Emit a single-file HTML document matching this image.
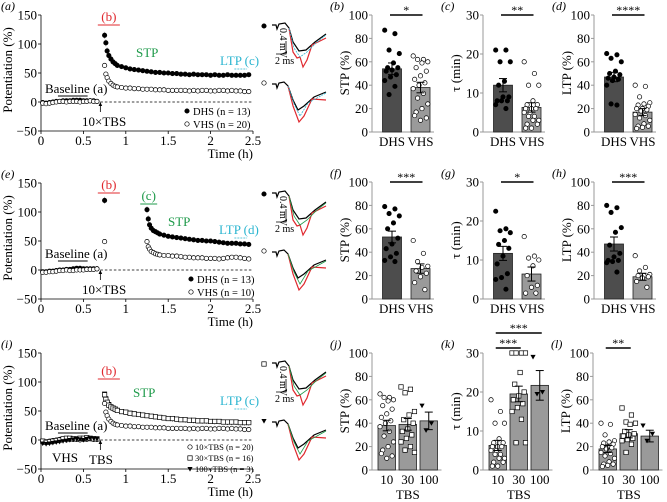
<!DOCTYPE html>
<html><head><meta charset="utf-8"><style>
body{margin:0;background:#fff}
svg{display:block;font-family:"Liberation Serif",serif}
</style></head><body>
<svg id="fig" width="667" height="502" viewBox="0 0 667 502" xmlns="http://www.w3.org/2000/svg"></svg>
<script>
// ---------- DATA ----------
const baseT=[0.02,0.06,0.10,0.14,0.18,0.22,0.26,0.30,0.34,0.38,0.42,0.46,0.50,0.54,0.58,0.62,0.66];
const postT=[0.75,0.765,0.78,0.80,0.825,0.85,0.875,0.9,0.95,1.0,1.05,1.1,1.15,1.2,1.25,1.3,1.35,1.4,1.45,1.5,1.55,1.6,1.65,1.7,1.75,1.8,1.85,1.9,1.95,2.0,2.05,2.1,2.15,2.2,2.25,2.3,2.35,2.4,2.45];
const postTe=[1.25,1.265,1.28,1.30,1.325,1.35,1.375,1.4,1.45,1.5,1.55,1.6,1.65,1.7,1.75,1.8,1.85,1.9,1.95,2.0,2.05,2.1,2.15,2.2,2.25,2.3,2.35,2.4,2.45];
const aDhsBase=[-1,-2,-1,0,1,1,2,2,2,3,3,3,2,2,2,2,1];
const aVhsBase=[-2,-3,-2,-1,0,1,1,0,1,1,1,0,1,1,2,1,1];
const aDhsPost=[115,102,88,80,74,69,66,63,61,59,57,56,55,54,53,52,51,51,50,50,49,49,48,48,47,48,47,47,47,46,47,46,46,47,46,46,46,46,47];
const aVhsPost=[63,48,42,36,32,29,27,26,25,24,24,23,23,22,22,22,21,21,21,20,20,20,20,20,19,20,19,20,20,19,19,20,20,19,20,19,19,18,18];
const eDhsBase=[-3,-3,-2,-2,-1,0,0,1,1,2,3,3,2,2,2,2,2];
const eVhsBase=[-4,-4,-3,-3,-2,-1,-1,0,-1,-1,0,0,0,1,1,1,2];
const eDhsTbs=[120];
const eVhsTbs=[49];
const eDhsPost=[104,88,78,72,68,66,64,62,60,58,57,56,55,54,53,52,51,51,50,50,49,48,47,46,46,46,45,45,44];
const eVhsPost=[49,40,36,32,30,28,27,26,25,25,24,24,23,22,22,21,21,21,20,20,20,19,20,21,22,22,21,20,19];
const i10Base=[-2,-3,-2,-1,0,1,1,0,1,1,1,0,1,1,2,1,1];
const i30Base=[-2,-4,-3,-2,-1,0,2,3,3,2,2,3,3,4,3,2,2];
const i100Base=[-6,-7,-6,-5,-4,-3,-2,-1,0,1,2,1,0,2,3,3,2];
const i10Post=[63,48,42,36,32,29,27,26,25,24,24,23,23,22,22,22,21,21,21,20,20,20,20,20,19,20,19,20,20,19,19,20,20,19,20,19,19,18,18];
const i30Post=[78,70,65,60,57,55,53,51,49,48,46,45,44,43,42,41,40,39,38,37,37,36,35,35,34,34,33,33,33,32,32,32,31,31,31,31,30,30,30];
const i100Post=[80,72,66,62,58,56,54,52,50,48,47,46,44,43,42,41,40,39,38,37,36,36,35,34,34,33,33,32,32,32,31,31,31,30,30,30,29,29,29];
const timeTicks=[0,0.5,1,1.5,2,2.5];
const timeTickLabels=["0","0.5","1","1.5","2","2.5"];
const potTicks=[150,100,50,0,-50];
const potTickLabels=["150","100","50","0","\u221250"];

const groups2=["DHS","VHS"];
const groups3=["10","30","100"];
const bMeans=[54,38], bSem=[5,4.5];
const bDhs=[87,84,70,67,59,55,55,53,52,49,47,44,39,32];
const bVhs=[65,62,62,60,59,55,52,48,45,42,40,37,33,29,24,20,17,12,10,14];
const cMeans=[12,6.3], cSem=[1.7,1.2];
const cDhs=[21,21,18,18,13,12,9,9,8,8,8,7,6];
const cVhs=[18,15,12,12,8,7,7,6,6,6,5,5,4,4,3,3,2,2,1,1];
const dMeans=[47,17], dSem=[4,3];
const dDhs=[67,66,63,60,52,50,49,47,46,45,44,40,23,24];
const dVhs=[40,39,30,25,24,23,22,20,20,19,18,15,14,12,10,7,5,5,4,3];
const fMeans=[53,26], fSem=[5,4];
const fDhs=[79,77,73,71,65,60,52,47,43,39,36,33,32];
const fVhs=[50,39,32,28,27,24,22,19,14,8];
const gMeans=[11.7,6.4], gSem=[1.8,1.8];
const gDhs=[22.5,18,17.5,17,15,14,13,11,9,6.5,5.5,5,2.5];
const gVhs=[16,11,10.5,10,8.5,6,3.5,3,1.5,1.5];
const hMeans=[47,19], hSem=[6,3];
const hDhs=[80,78,74,61,57,46,39,36,33,33,32,31,23];
const hVhs=[37,27,24,21,20,20,19,18,15,10];
const jMeans=[38,39,42], jSem=[4.5,5,7.5];
const j10=[65,62,62,60,59,55,52,48,45,42,40,37,33,29,24,20,17,12,10,14];
const j30=[71,69,66,50,47,43,40,35,33,30,27,24,20,17,15];
const j100=[55,40,34];
const kMeans=[6.3,19.5,21.7], kSem=[1.3,2,3.8];
const k10=[18,15,12,12,8,7,7,6,6,6,5,5,4,4,3,3,2,2,1,1];
const k30=[30,30,30,30,25,22,20,19,18,17,16,15,13,7,7];
const k100=[29,20,19.5];
const lMeans=[18,31,29], lSem=[3,3.5,5];
const l10=[40,39,30,25,24,23,22,20,20,19,18,15,14,12,10,7,5,5,4,3];
const l30=[53,47,41,40,39,33,31,30,29,27,26,25,22,15];
const l100=[38,31,25];
const pctTicks=[0,20,40,60,80,100];
const tauTicks=[0,10,20,30];

// ---------- DRAW ----------
const NS="http://www.w3.org/2000/svg";
const svg=document.getElementById('fig');
function mk(tag,attrs,parent){const e=document.createElementNS(NS,tag);for(const k in attrs)e.setAttribute(k,attrs[k]);(parent||svg).appendChild(e);return e;}
function txt(s,x,y,o,parent){o=o||{};const e=mk('text',{x:x,y:y,'font-size':o.fs||12,fill:o.fill||'#000','text-anchor':o.anchor||'start'},parent);if(o.italic)e.setAttribute('font-style','italic');if(o.rot)e.setAttribute('transform','rotate(-90 '+x+' '+y+')');e.textContent=s;return e;}

function marker(g,shape,x,y,filled){
  let e;
  if(shape==='sq'){e=mk('rect',{x:x-2.2,y:y-2.2,width:4.4,height:4.4,fill:filled?'#000':'#fff',stroke:'#000','stroke-width':0.7},g);}
  else if(shape==='tri'){e=mk('path',{d:`M${x-2.6},${y-2} L${x+2.6},${y-2} L${x},${y+2.6}Z`,fill:'#000'},g);}
  else {e=mk('circle',{cx:x,cy:y,r:2.2,fill:filled?'#000':'#fff',stroke:'#000','stroke-width':0.7},g);}
  
  
  return e;
}

function timePlot(oy,letter,series,texts){
  const g=mk('g',{});
  
  
  const X=t=>41+t*84.8, Y=v=>oy+102-v*0.58;
  const ax=mk('path',{d:`M${X(0)},${Y(150)} L${X(0)},${Y(-50)} L${X(2.5)},${Y(-50)}`,fill:'none',stroke:'#000','stroke-width':0.8},g);
  
  timeTicks.forEach((t,i)=>{mk('line',{x1:X(t),x2:X(t),y1:Y(-50),y2:Y(-50)+3,stroke:'#000','stroke-width':0.8},g);
    const l=txt(timeTickLabels[i],X(t),Y(-50)+14,{anchor:'middle',fs:13},g);});
  potTicks.forEach((v,i)=>{mk('line',{x1:X(0)-3,x2:X(0),y1:Y(v),y2:Y(v),stroke:'#000','stroke-width':0.8},g);
    const l=txt(potTickLabels[i],X(0)-4,Y(v)+4.5,{anchor:'end',fs:13},g);});
  mk('line',{x1:X(0.7),x2:X(2.5),y1:Y(0),y2:Y(0),stroke:'#000','stroke-width':0.7,'stroke-dasharray':'2.5,2'},g);
  const yt=txt('Potentiation (%)',12,oy+70,{rot:true,anchor:'middle',fs:13},g);
  const xt=txt('Time (h)',253,oy+158,{anchor:'end',fs:13},g);
  series.forEach(s=>{s.t.forEach((t,i)=>{if(s.v[i]>80){mk('line',{x1:X(t),x2:X(t),y1:Y(s.v[i]+6),y2:Y(s.v[i]-6),stroke:'#888','stroke-width':0.6},g);}marker(g,s.shape,X(t),Y(s.v[i]),s.filled);});});
  texts(g,X,Y);
  const pl=txt('('+letter+')',1,oy+10,{italic:true},g);
}

function stdAnn(g,X,Y,oy,bY,baseY,tbs){
  txt('(b)',X(0.8),oy+bY,{fill:'#e0282e',anchor:'middle',fs:13},g);
  mk('line',{x1:X(0.67),x2:X(0.93),y1:oy+bY+4,y2:oy+bY+4,stroke:'#e0282e','stroke-width':1},g);
  txt('Baseline (a)',45,oy+baseY,{fs:13},g);
  mk('line',{x1:X(0.2),x2:X(0.55),y1:oy+baseY+3,y2:oy+baseY+3,stroke:'#000','stroke-width':1},g);
  mk('line',{x1:X(0.7),x2:X(0.7),y1:oy+112,y2:oy+104,stroke:'#000','stroke-width':0.8},g);
  mk('path',{d:`M${X(0.7)-1.8},${oy+106} L${X(0.7)},${oy+102} L${X(0.7)+1.8},${oy+106}Z`},g);
  txt(tbs,tbs==='TBS'?89:82,oy+126,{fs:13},g);
}

timePlot(0,'a',[
  {t:baseT,v:aDhsBase,shape:'c',filled:true},{t:baseT,v:aVhsBase,shape:'c',filled:false},
  {t:postT,v:aDhsPost,shape:'c',filled:true},{t:postT,v:aVhsPost,shape:'c',filled:false}],
  (g,X,Y)=>{stdAnn(g,X,Y,0,21,93,'10\u00d7TBS');
    txt('STP',136,57,{fill:'#1e9a4a',fs:13},g);
    txt('LTP (c)',220,65,{fill:'#2bb5d0',fs:13},g);
    mk('line',{x1:X(2.28),x2:X(2.43),y1:69,y2:69,stroke:'#2bb5d0','stroke-width':0.8,'stroke-dasharray':'2,1'},g);
    marker(g,'c',187,111,true);txt('DHS (n = 13)',193,115,{fs:10.5},g);
    marker(g,'c',187,124,false);txt('VHS (n = 20)',193,128,{fs:10.5},g);});
timePlot(168,'e',[
  {t:baseT,v:eDhsBase,shape:'c',filled:true},{t:baseT,v:eVhsBase,shape:'c',filled:false},
  {t:[0.75],v:eDhsTbs,shape:'c',filled:true},{t:[0.75],v:eVhsTbs,shape:'c',filled:false},
  {t:postTe,v:eDhsPost,shape:'c',filled:true},{t:postTe,v:eVhsPost,shape:'c',filled:false}],
  (g,X,Y)=>{stdAnn(g,X,Y,168,21,90,'10\u00d7TBS');
    txt('(c)',X(1.27),168+32,{fill:'#1e9a4a',anchor:'middle',fs:13},g);
    mk('line',{x1:X(1.17),x2:X(1.37),y1:168+36,y2:168+36,stroke:'#1e9a4a','stroke-width':1},g);
    txt('STP',168,168+58,{fill:'#1e9a4a',fs:13},g);
    txt('LTP (d)',219,168+66,{fill:'#2bb5d0',fs:13},g);
    mk('line',{x1:X(2.28),x2:X(2.43),y1:168+70,y2:168+70,stroke:'#2bb5d0','stroke-width':0.8,'stroke-dasharray':'2,1'},g);
    marker(g,'c',191,168+111,true);txt('DHS (n = 13)',197,168+115,{fs:10.5},g);
    marker(g,'c',191,168+124,false);txt('VHS (n = 10)',197,168+128,{fs:10.5},g);});
timePlot(338,'i',[
  {t:baseT,v:i10Base,shape:'c',filled:false},{t:baseT,v:i30Base,shape:'sq',filled:false},{t:baseT,v:i100Base,shape:'tri',filled:true},
  {t:postT,v:i100Post,shape:'tri',filled:true},{t:postT,v:i30Post,shape:'sq',filled:false},{t:postT,v:i10Post,shape:'c',filled:false}],
  (g,X,Y)=>{stdAnn(g,X,Y,338,37,92,'TBS');
    txt('STP',133,338+59,{fill:'#1e9a4a',fs:13},g);
    txt('LTP (c)',220,338+67,{fill:'#2bb5d0',fs:13},g);
    mk('line',{x1:X(2.28),x2:X(2.43),y1:338+71,y2:338+71,stroke:'#2bb5d0','stroke-width':0.8,'stroke-dasharray':'2,1'},g);
    txt('VHS',52,338+124,{fs:13},g);
    marker(g,'c',190,338+109,false);txt('10\u00d7TBS (n = 20)',195,338+112,{fs:8.5},g);
    marker(g,'sq',190,338+120,false);txt('30\u00d7TBS (n = 16)',195,338+123,{fs:8.5},g);
    marker(g,'tri',190,338+131,true);txt('100\u00d7TBS (n = 3)',195,338+134,{fs:8.5},g);});

function barPlot(letter,ax,oy,max,ticks,ytitle,cats,means,sems,pts,shapes,fills,barFills,xtitle,sigs){
  const g=mk('g',{});
  
  
  const top=oy+15,bot=oy+132;
  const Y=v=>bot-v/max*(bot-top);
  const n=cats.length, bw=n===2?19:17.5, gap=n===2?9.5:3.5, start=ax+(n===2?10.5:6);
  const Xc=i=>start+i*(bw+gap)+bw/2;
  mk('line',{x1:ax,x2:ax,y1:top,y2:bot,stroke:'#999','stroke-width':1},g);
  mk('line',{x1:ax,x2:Xc(n-1)+bw/2+4,y1:bot,y2:bot,stroke:'#999','stroke-width':1},g);
  ticks.forEach(v=>{mk('line',{x1:ax-3,x2:ax,y1:Y(v),y2:Y(v),stroke:'#999','stroke-width':1},g);
    const l=txt(String(v),ax-4,Y(v)+4.5,{anchor:'end',fs:13},g);});
  const yt=txt(ytitle,ax-23,oy+73,{rot:true,anchor:'middle',fs:13},g);
  cats.forEach((c,i)=>{
    const b=mk('rect',{x:Xc(i)-bw/2,y:Y(means[i]),width:bw,height:bot-Y(means[i]),fill:barFills[i],stroke:'#222','stroke-width':0.8},g);
    
    
    pts[i].forEach((v,k)=>{const off=((k*7)%11-5)*bw/13;marker(g,shapes[i],Xc(i)+off,Y(v),fills[i]);});
    mk('line',{x1:Xc(i),x2:Xc(i),y1:Y(means[i]+sems[i]),y2:Y(means[i]-sems[i]),stroke:'#000','stroke-width':1},g);
    mk('line',{x1:Xc(i)-4,x2:Xc(i)+4,y1:Y(means[i]+sems[i]),y2:Y(means[i]+sems[i]),stroke:'#000','stroke-width':1},g);
    mk('line',{x1:Xc(i)-4,x2:Xc(i)+4,y1:Y(means[i]-sems[i]),y2:Y(means[i]-sems[i]),stroke:'#000','stroke-width':1},g);
    const l=txt(c,Xc(i),bot+14,{anchor:'middle',fs:13},g);
  });
  if(xtitle){const xt=txt(xtitle,(Xc(0)+Xc(n-1))/2,oy+161,{anchor:'middle',fs:13},g);}
  sigs.forEach(s=>{mk('line',{x1:Xc(s[0])-2,x2:Xc(s[1])+2,y1:oy+s[2],y2:oy+s[2],stroke:'#000','stroke-width':1.6},g);
    const st=txt(s[3],(Xc(s[0])+Xc(s[1]))/2,oy+s[2]-1,{anchor:'middle',fs:12},g);});
  const pl=txt('('+letter+')',ax-42,oy+10,{italic:true},g);
}
const dk='#4d4d4d',lt='#9a9a9a';
barPlot('b',372,0,100,pctTicks,'STP (%)',groups2,bMeans,bSem,[bDhs,bVhs],['c','c'],[true,false],[dk,lt],null,[[0,1,15,'*']]);
barPlot('c',483,0,30,tauTicks,'\u03c4 (min)',groups2,cMeans,cSem,[cDhs,cVhs],['c','c'],[true,false],[dk,lt],null,[[0,1,15,'**']]);
barPlot('d',594,0,100,pctTicks,'LTP (%)',groups2,dMeans,dSem,[dDhs,dVhs],['c','c'],[true,false],[dk,lt],null,[[0,1,15,'****']]);
barPlot('f',372,167,100,pctTicks,'STP (%)',groups2,fMeans,fSem,[fDhs,fVhs],['c','c'],[true,false],[dk,lt],null,[[0,1,15,'***']]);
barPlot('g',483,167,30,tauTicks,'\u03c4 (min)',groups2,gMeans,gSem,[gDhs,gVhs],['c','c'],[true,false],[dk,lt],null,[[0,1,15,'*']]);
barPlot('h',594,167,100,pctTicks,'LTP (%)',groups2,hMeans,hSem,[hDhs,hVhs],['c','c'],[true,false],[dk,lt],null,[[0,1,15,'***']]);
barPlot('j',372,338,100,pctTicks,'STP (%)',groups3,jMeans,jSem,[j10,j30,j100],['c','sq','tri'],[false,false,true],[lt,lt,lt],'TBS',[]);
barPlot('k',483,338,30,tauTicks,'\u03c4 (min)',groups3,kMeans,kSem,[k10,k30,k100],['c','sq','tri'],[false,false,true],[lt,lt,lt],'TBS',[[0,2,-5,'***'],[0,1,10,'***']]);
barPlot('l',593,338,100,pctTicks,'LTP (%)',groups3,lMeans,lSem,[l10,l30,l100],['c','sq','tri'],[false,false,true],[lt,lt,lt],'TBS',[[0,1,10,'**']]);

// ---------- example traces ----------
function traces(oy,topShape,botShape,withGreen){
  const g=mk('g',{});
  
  
  marker(g,topShape,264,oy+26,topShape!=='sq');
  marker(g,botShape,264,oy+83,botShape==='c'?false:true);
  const T=(d,c,w,da)=>{const p=mk('path',{d:d,fill:'none',stroke:c,'stroke-width':w},g);if(da)p.setAttribute('stroke-dasharray',da);};
  const o=oy;
  T(`M272,${o+25} L276,${o+25} L277,${o+29} L279,${o+24} L285,${o+23} L289,${o+28} L293,${o+42} L299,${o+51} L306,${o+50} L315,${o+42} L326,${o+34}`,'#000',1.2);
  T(`M289,${o+28} L293,${o+52} L297,${o+58} L300,${o+57} L303,${o+67} L307,${o+60} L312,${o+45} L318,${o+42} L326,${o+38}`,'#e0282e',1.2);
  T(`M289,${o+28} L294,${o+48} L300,${o+57} L307,${o+52} L316,${o+43} L326,${o+35}`,withGreen?'#1e9a4a':'#2bb5d0',0.8,withGreen?null:'2,1');
  T(`M272,${o+84} L276,${o+84} L277,${o+88} L279,${o+83} L284,${o+82} L288,${o+86} L293,${o+100} L298,${o+110} L304,${o+106} L314,${o+97} L326,${o+92}`,'#000',1.2);
  T(`M288,${o+86} L293,${o+106} L299,${o+122} L304,${o+116} L312,${o+99} L326,${o+100}`,'#e0282e',1.2);
  T(`M288,${o+86} L294,${o+104} L300,${o+116} L308,${o+103} L326,${o+93}`,withGreen?'#1e9a4a':'#2bb5d0',0.8,withGreen?null:'2,1');
  mk('path',{d:`M286,${o+41} L286,${o+54} L276,${o+54}`,fill:'none',stroke:'#000','stroke-width':0.8},g);
  const mv=txt('0.4 mV',280,o+28,{fs:10},g);mv.setAttribute('transform',`rotate(90 280 ${o+28})`);
  txt('2 ms',275,o+64,{fs:10},g);
}
traces(0,'c','c',false);
traces(168,'c','c',true);
traces(338,'sq','tri',true);
</script>
</body></html>
